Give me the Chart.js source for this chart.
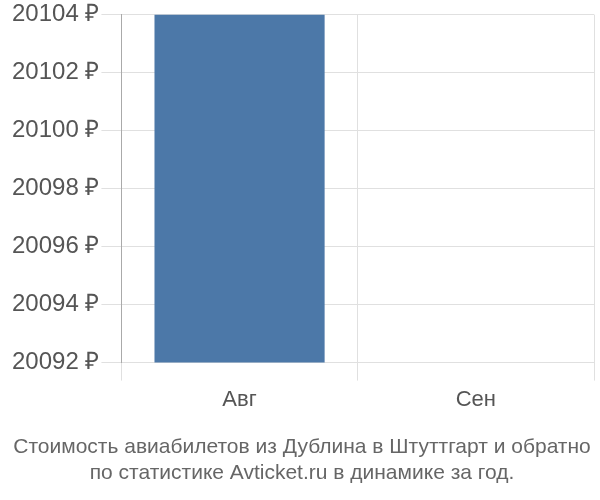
<!DOCTYPE html>
<html>
<head>
<meta charset="utf-8">
<script src="https://cdn.jsdelivr.net/npm/chart.js@4"></script>
<style>
  html, body { margin: 0; padding: 0; background: #fff; }
  #wrap { width: 600px; height: 500px; }
</style>
</head>
<body>
<div id="wrap"><canvas id="price-chart"></canvas></div>
<script>
const months = ['Авг', 'Сен'];
const prices = [20104, null];
const yTicks = [20092, 20094, 20096, 20098, 20100, 20102, 20104];
const titleLines = [
    'Стоимость авиабилетов из Дублина в Штуттгарт и обратно',
    'по статистике Avticket.ru в динамике за год.'
];

Chart.defaults.font.family = '"Liberation Sans", Arial, sans-serif';
Chart.defaults.animation = false;

const canvas = document.querySelector('#price-chart');

new Chart(canvas, {
    type: 'bar',
    data: {
        labels: months,
        datasets: [{
            data: prices,
            backgroundColor: '#4c78a8',
            borderWidth: 0,
            categoryPercentage: 0.72,
            barPercentage: 1
        }]
    },
    options: {
        responsive: true,
        maintainAspectRatio: false,
        layout: {
            padding: { top: 0, right: 6, left: 10, bottom: 0 }
        },
        scales: {
            x: {
                offset: true,
                grid: {
                    offset: true,
                    color: '#e0e0e0',
                    lineWidth: 1,
                    tickLength: 18
                },
                border: { display: false },
                ticks: {
                    color: '#555',
                    font: { size: 22, lineHeight: 1.2 },
                    padding: 6
                }
            },
            y: {
                min: yTicks[0],
                max: yTicks[yTicks.length - 1],
                afterBuildTicks: function (axis) {
                    axis.ticks = yTicks.map(v => ({ value: v }));
                },
                grid: {
                    color: '#e0e0e0',
                    lineWidth: 1,
                    tickLength: 20
                },
                border: { color: '#aaa', width: 1 },
                ticks: {
                    color: '#555',
                    font: { size: 24, lineHeight: 1.05 },
                    padding: 2,
                    callback: function (value) {
                        return value + ' ₽';
                    }
                }
            }
        },
        plugins: {
            legend: { display: false },
            tooltip: { enabled: false },
            title: {
                display: true,
                position: 'bottom',
                text: titleLines,
                color: '#666',
                font: { size: 21, weight: 'normal', lineHeight: '26px' },
                padding: { top: 15, bottom: 14 }
            }
        }
    }
});
</script>
</body>
</html>
